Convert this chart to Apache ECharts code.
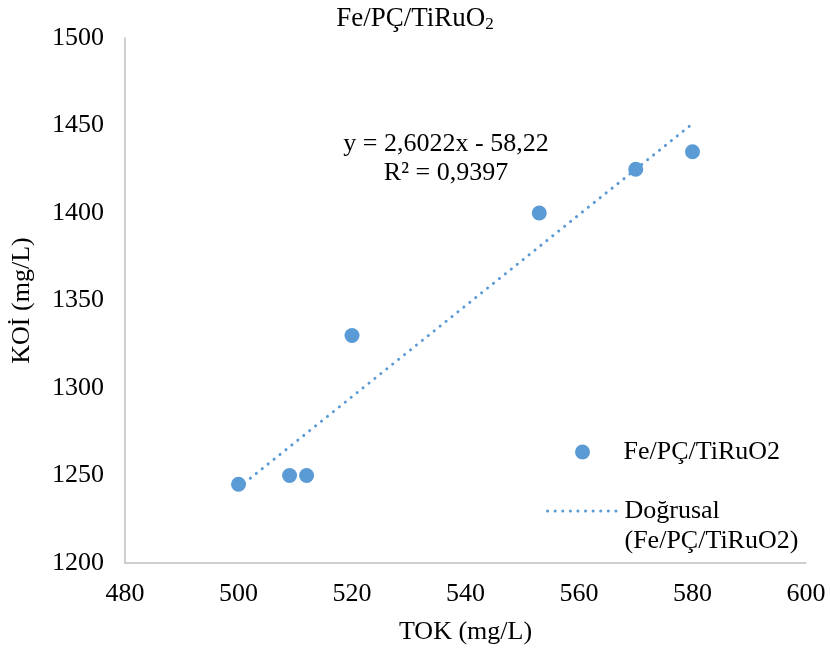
<!DOCTYPE html>
<html>
<head>
<meta charset="utf-8">
<script src="https://cdn.jsdelivr.net/npm/echarts@6/dist/echarts.min.js"></script>
<style>
  html, body { margin: 0; padding: 0; background: #fff; }
  #chart { width: 830px; height: 651px; }
</style>
</head>
<body>
<div id="chart"></div>
<script>
// TOK (mg/L) vs KOİ (mg/L)
const tokValues = [500, 509, 512, 520, 553, 570, 580]
const koiValues = [1245, 1250, 1250, 1330, 1400, 1425, 1435]

// linear trendline end points
const trendX = [500, 580]
const trendY = [1243, 1451]

const seriesName = 'Fe/PÇ/TiRuO2'
const trendName = 'Doğrusal (Fe/PÇ/TiRuO2)'
const equationLines = ['y = 2,6022x - 58,22', 'R² = 0,9397']

const font = "'Liberation Serif', 'Times New Roman', serif"
const blue = '#5B9BD5'
const axisGray = '#BFBFBF'
const dotted = { color: blue, width: 3, type: [0.1, 7.5], cap: 'round' }

const chart = echarts.init(document.getElementById('chart'))

const option = {
  animation: false,
  backgroundColor: '#fff',
  title: {
    text: '{m|Fe/PÇ/TiRuO}{s|2}',
    left: 'center',
    top: 0,
    textStyle: {
      fontWeight: 'normal',
      rich: {
        m: { fontFamily: font, fontSize: 27, fontWeight: 'normal', color: '#000' },
        s: { fontFamily: font, fontSize: 17, fontWeight: 'normal', color: '#000', padding: [11, 0, 0, 0] }
      }
    }
  },
  grid: {
    left: 125,
    right: 24,
    top: 38,
    bottom: 88
  },
  xAxis: {
    type: 'value',
    min: 480,
    max: 600,
    interval: 20,
    name: 'TOK (mg/L)',
    nameLocation: 'middle',
    nameGap: 56,
    nameTextStyle: { fontFamily: font, fontSize: 26, color: '#000' },
    axisLine: { show: true, lineStyle: { color: axisGray, width: 1.5 } },
    axisTick: { show: false },
    splitLine: { show: false },
    axisLabel: { fontFamily: font, fontSize: 26, color: '#000', margin: 18 }
  },
  yAxis: {
    type: 'value',
    min: 1200,
    max: 1500,
    interval: 50,
    name: 'KOİ (mg/L)',
    nameLocation: 'middle',
    nameGap: 90,
    nameRotate: 90,
    nameTextStyle: { fontFamily: font, fontSize: 26, color: '#000' },
    axisLine: { show: true, lineStyle: { color: axisGray, width: 1.5 } },
    axisTick: { show: false },
    splitLine: { show: false },
    axisLabel: {
      fontFamily: font, fontSize: 26, color: '#000', margin: 21,
      formatter: (v) => String(v)
    }
  },
  legend: [
    {
      data: [seriesName],
      orient: 'vertical',
      left: 575,
      top: 437,
      padding: 0,
      itemWidth: 72,
      itemHeight: 15,
      textStyle: { fontFamily: font, fontSize: 26, color: '#000', lineHeight: 30 }
    },
    {
      data: [trendName],
      orient: 'vertical',
      left: 546,
      top: 466,
      padding: 0,
      itemWidth: 72,
      itemHeight: 15,
      itemStyle: { opacity: 0 },
      lineStyle: Object.assign({ opacity: 1 }, dotted),
      // blank first line keeps "Doğrusal" level with the dotted icon
      formatter: () => '\nDoğrusal\n(Fe/PÇ/TiRuO2)',
      textStyle: { fontFamily: font, fontSize: 26, color: '#000', lineHeight: 30 }
    }
  ],
  graphic: [
    {
      type: 'text',
      x: 446,
      y: 159,
      style: {
        text: equationLines.join('\n'),
        fontFamily: font,
        fontSize: 26,
        lineHeight: 29,
        fill: '#000',
        align: 'center',
        verticalAlign: 'middle'
      }
    }
  ],
  series: [
    {
      name: trendName,
      type: 'line',
      data: trendX.map((x, i) => [x, trendY[i]]),
      symbol: 'none',
      lineStyle: dotted,
      itemStyle: { color: blue },
      z: 1
    },
    {
      name: seriesName,
      type: 'scatter',
      data: tokValues.map((x, i) => [x, koiValues[i]]),
      symbol: 'circle',
      symbolSize: 15,
      itemStyle: { color: blue, opacity: 1 },
      z: 2
    }
  ]
}

chart.setOption(option)
</script>
</body>
</html>
